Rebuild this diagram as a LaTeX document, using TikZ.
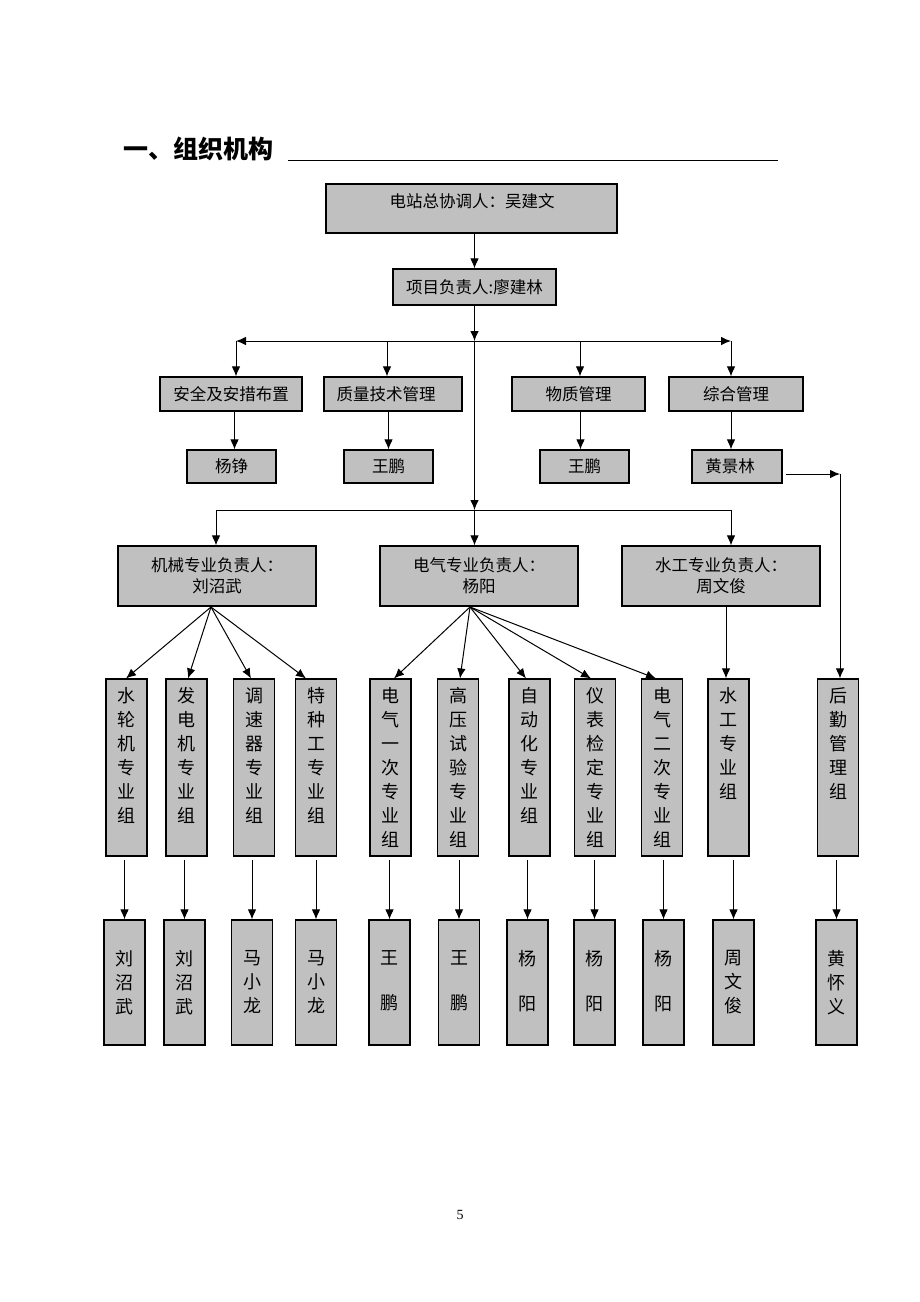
\documentclass[tikz,border=0pt]{standalone}
\usepackage{fontspec}
\setmainfont{Liberation Serif}
\newfontfamily\cjk{Noto Sans CJK SC}
\usetikzlibrary{arrows.meta,calc}
\definecolor{boxgray}{RGB}{192,192,192}
\begin{document}
\begin{tikzpicture}[x=1pt,y=-1pt,
  box/.style={draw=black, fill=boxgray, line width=1.1pt, inner sep=0pt, font=\cjk\fontsize{16.5}{21}\selectfont, align=center},
  conn/.style={line width=1pt, -{Latex[length=10pt,width=8.5pt]}},
  plain/.style={line width=1pt},
  vtext/.style={font=\cjk\fontsize{18}{24}\selectfont, align=center, inner sep=0pt, anchor=north},
]
\useasboundingbox[fill=white] (0,0) rectangle (920,1302);

% title
\node[font=\cjk\bfseries\fontsize{25}{25}\selectfont, anchor=west, inner sep=0pt] (title) at (123,149) {一、组织机构};
\coordinate (ul1) at (288,160);
\coordinate (ul2) at (778,160);
\draw[line width=1pt] (ul1) -- (ul2);

% top boxes
\node[box, minimum width=291, minimum height=49] (top) at (471.5,208.5) {};
\node[font=\cjk\fontsize{16.5}{16.5}\selectfont, inner sep=0pt] (topt) at (472,201) {电站总协调人：吴建文};
\node[box, minimum width=163, minimum height=36] (pm) at (474.5,287) {项目负责人:廖建林};
\draw[conn] (pm.north |- top.south) -- (pm.north);

% first bus
\coordinate (j1) at (474.5,341);
\coordinate (bl) at (236,341);
\coordinate (p2) at (387,341);
\coordinate (p3) at (580,341);
\coordinate (br) at (731,341);
\draw[conn] (pm.south) -- (j1);
\draw[line width=1pt, {Latex[length=10pt,width=8.5pt]}-{Latex[length=10pt,width=8.5pt]}] (bl) -- (br);

% row 3
\node[box, minimum width=142, minimum height=34] (a1) at (231,394) {安全及安措布置};
\node[box, minimum width=138, minimum height=34] (a2) at (393,394) {};
\node[font=\cjk\fontsize{16.5}{16.5}\selectfont, inner sep=0pt] (a2t) at (386,394) {质量技术管理};
\node[box, minimum width=133, minimum height=34] (a3) at (578.5,394) {物质管理};
\node[box, minimum width=134, minimum height=34] (a4) at (736,394) {综合管理};
\draw[conn] (bl) -- (bl |- a1.north);
\draw[conn] (p2) -- (p2 |- a2.north);
\draw[conn] (p3) -- (p3 |- a3.north);
\draw[conn] (br) -- (br |- a4.north);

% row 4
\node[box, minimum width=89, minimum height=33] (b1) at (231.5,466.5) {杨铮};
\node[box, minimum width=89, minimum height=33] (b2) at (388.5,466.5) {王鹏};
\node[box, minimum width=89, minimum height=33] (b3) at (584.5,466.5) {王鹏};
\node[box, minimum width=90, minimum height=33] (b4) at (737,466.5) {};
\node[font=\cjk\fontsize{16.5}{16.5}\selectfont, inner sep=0pt] (b4t) at (730,466.5) {黄景林};
\draw[conn] ($(a1.south)+(3.5,0)$) -- ($(b1.north)+(3,0)$);
\draw[conn] (b2.north |- a2.south) -- (b2.north);
\draw[conn] ($(a3.south)+(2,0)$) -- ($(b3.north)+(-4,0)$);
\draw[conn] ($(a4.south)+(-5,0)$) -- ($(b4.north)+(-6,0)$);

\coordinate (hk) at (840,474);
\draw[conn] ($(b4.east)+(3,7.5)$) -- (hk);

% second bus
\coordinate (j2) at (474.5,510);
\coordinate (cl) at (216,510);
\coordinate (cr) at (731,510);
\draw[conn] (j1) -- (j2);
\draw[plain] (cl) -- (cr);

% row 5
\node[box, minimum width=198, minimum height=60] (c1) at (217,576) {机械专业负责人：\\刘沼武};
\node[box, minimum width=198, minimum height=60] (c2) at (479,576) {电气专业负责人：\\杨阳};
\node[box, minimum width=198, minimum height=60] (c3) at (721,576) {水工专业负责人：\\周文俊};
\draw[conn] (cl) -- (cl |- c1.north);
\draw[conn] (j2) -- (j2 |- c2.north);
\draw[conn] (cr) -- (cr |- c3.north);

% column boxes
\foreach \n/\x/\t in {
  g1/126.5/{水\\轮\\机\\专\\业\\组},
  g2/186.5/{发\\电\\机\\专\\业\\组},
  g3/254/{调\\速\\器\\专\\业\\组},
  g4/316/{特\\种\\工\\专\\业\\组},
  g5/390.5/{电\\气\\一\\次\\专\\业\\组},
  g6/458/{高\\压\\试\\验\\专\\业\\组},
  g7/529.5/{自\\动\\化\\专\\业\\组},
  g8/595/{仪\\表\\检\\定\\专\\业\\组},
  g9/662/{电\\气\\二\\次\\专\\业\\组},
  g10/728.5/{水\\工\\专\\业\\组},
  g11/838/{后\\勤\\管\\理\\组}} {
  \node[box, minimum width=41, minimum height=177] (\n) at (\x,767.5) {};
  \node[vtext] (\n t) at ($(\n.north)+(0,9)$) {\t};
}

% bottom boxes
\foreach \n/\x/\t in {
  h1/124.5/{刘\\沼\\武},
  h2/184.5/{刘\\沼\\武},
  h3/252/{马\\小\\龙},
  h4/316/{马\\小\\龙},
  h5/389.5/{王\\[21pt]鹏},
  h6/459/{王\\[21pt]鹏},
  h7/527.5/{杨\\[21pt]阳},
  h8/594.5/{杨\\[21pt]阳},
  h9/663.5/{杨\\[21pt]阳},
  h10/733.5/{周\\文\\俊},
  h11/836.5/{黄\\怀\\义}} {
  \node[box, minimum width=41, minimum height=125] (\n) at (\x,982.5) {};
  \node[vtext] (\n t) at ($(\n.north)+(0,31)$) {\t};
}

% fans
\coordinate (f1) at (211,607);
\coordinate (f2) at (470,607);
\draw[conn] (f1) -- ($(g1.north)+(-0.5,0)$);
\draw[conn] (f1) -- ($(g2.north)+(1.5,0)$);
\draw[conn] (f1) -- ($(g3.north)+(-3,0)$);
\draw[conn] (f1) -- ($(g4.north)+(-10,0)$);
\draw[conn] (f2) -- ($(g5.north)+(3.5,0)$);
\draw[conn] (f2) -- ($(g6.north)+(2,0)$);
\draw[conn] (f2) -- ($(g7.north)+(-3.5,0)$);
\draw[conn] (f2) -- ($(g8.north)+(-4,0)$);
\draw[conn] (f2) -- ($(g9.north)+(-6,0)$);
\draw[conn] ($(c3.south)+(5,0)$) -- ($(g10.north)+(-2.5,0)$);
\draw[conn] (hk) -- (hk |- g11.north);

% column to bottom
\foreach \i in {1,...,11} {
  \draw[conn, shorten <=3pt] (h\i.north |- g\i.south) -- (h\i.north);
}

% page number
\node[font=\fontsize{14}{14}\selectfont, inner sep=0pt] (pg) at (460,1215) {5};
\end{tikzpicture}
\end{document}
